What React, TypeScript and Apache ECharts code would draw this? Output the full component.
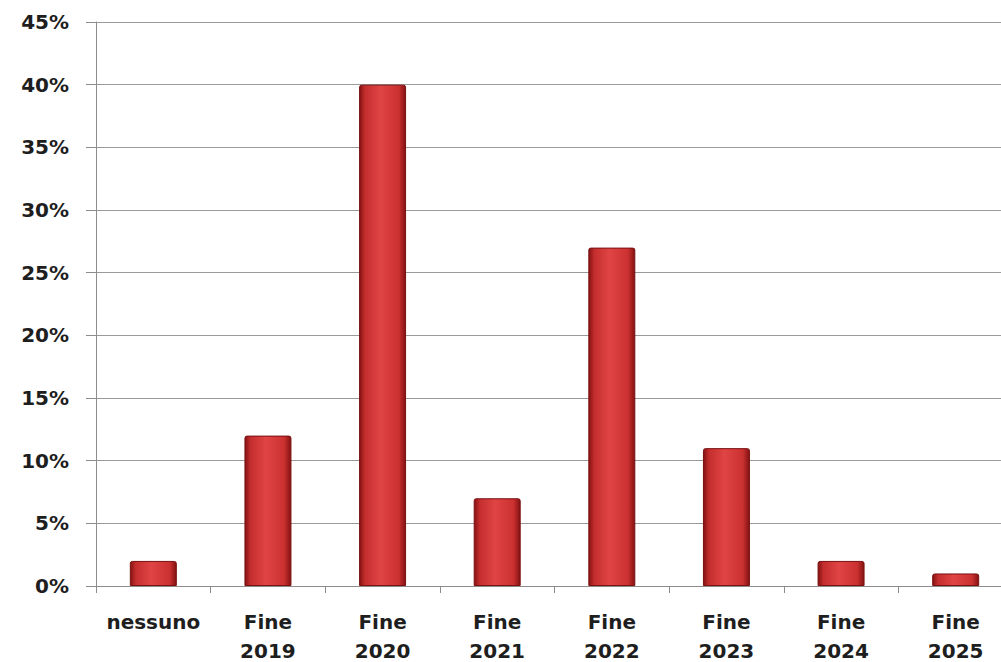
import React, { useEffect, useRef } from "react";
import * as echarts from "echarts";

const categories: string[] = ["nessuno", "Fine\n2019", "Fine\n2020", "Fine\n2021", "Fine\n2022", "Fine\n2023", "Fine\n2024", "Fine\n2025"];
const values: number[] = [2, 12, 40, 7, 27, 11, 2, 1];
const yMin = 0;
const yMax = 45;
const yInterval = 5;

export default function App() {
  const ref = useRef<HTMLDivElement>(null);
  useEffect(() => {
    if (!ref.current) return;
    const chart = echarts.init(ref.current, undefined, { renderer: "svg" });
    const barColor = new echarts.graphic.LinearGradient(0, 0, 1, 0, [
      { offset: 0, color: "#861212" },
      { offset: 0.12, color: "#c42e2e" },
      { offset: 0.45, color: "#e04444" },
      { offset: 0.85, color: "#cc3131" },
      { offset: 1, color: "#841212" },
    ]);
    chart.setOption({
      animation: false,
      backgroundColor: "#ffffff",
      grid: {
        left: 96,
        right: -12,
        top: 22,
        bottom: 76,
        containLabel: false,
        outerBoundsMode: "none",
      },
      xAxis: {
        type: "category",
        data: categories,
        boundaryGap: true,
        axisLine: { show: true, lineStyle: { color: "#8c8c8c", width: 1 } },
        axisTick: { show: true, length: 7, lineStyle: { color: "#8c8c8c" } },
        axisLabel: {
          color: "#1e1e1e",
          fontFamily: "DejaVu Sans",
          fontWeight: "bold",
          fontSize: 20,
          lineHeight: 29,
          margin: 21,
          interval: 0,
        },
      },
      yAxis: {
        type: "value",
        min: yMin,
        max: yMax,
        interval: yInterval,
        axisLine: { show: true, lineStyle: { color: "#8c8c8c", width: 1 } },
        axisTick: { show: true, length: 10, lineStyle: { color: "#8c8c8c" } },
        splitLine: { show: true, lineStyle: { color: "#9a9a9a", width: 1 } },
        axisLabel: {
          color: "#1e1e1e",
          fontFamily: "DejaVu Sans",
          fontWeight: "bold",
          fontSize: 20,
          margin: 27,
          formatter: (v: number) => v + "%",
        },
      },
      series: [
        {
          type: "bar",
          data: values,
          barWidth: 47,
          itemStyle: {
            color: barColor,
            borderColor: "#7a1010",
            borderWidth: 1,
            borderRadius: [2, 2, 0, 0],
          },
        },
      ],
    });
    return () => chart.dispose();
  }, []);
  return (
    <div
      ref={ref}
      style={{ position: "absolute", left: 0, top: 0, width: 1001, height: 662 }}
    />
  );
}
